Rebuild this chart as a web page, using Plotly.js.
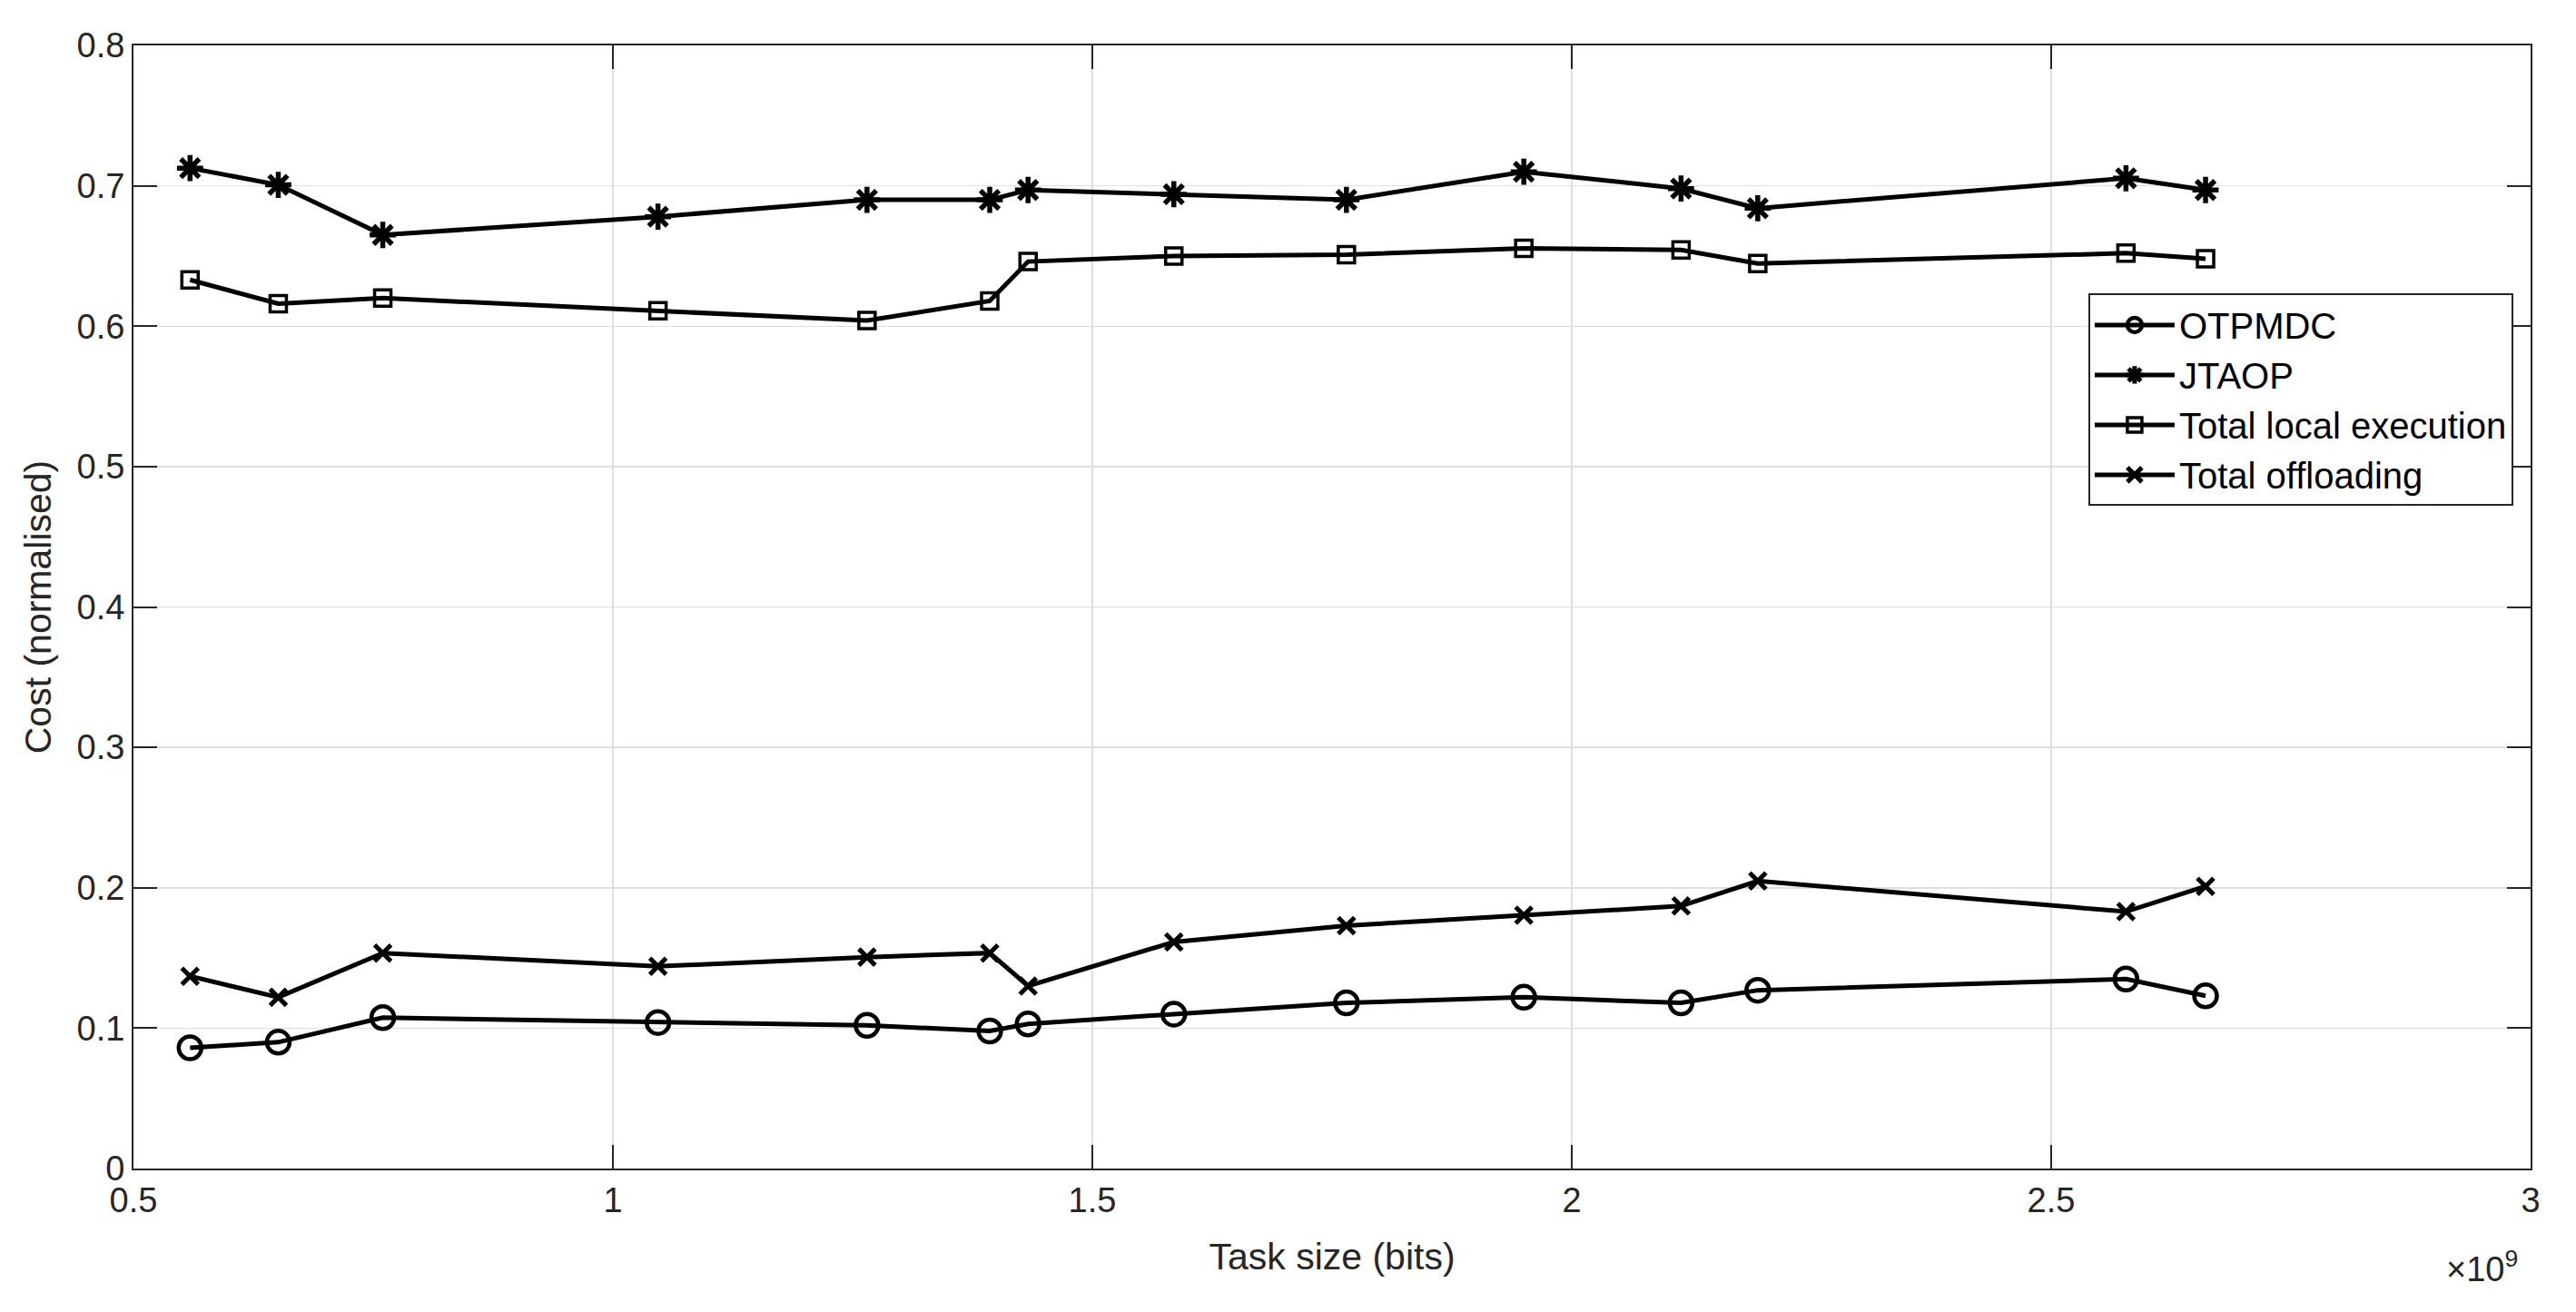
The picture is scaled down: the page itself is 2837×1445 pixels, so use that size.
<!DOCTYPE html>
<html>
<head>
<meta charset="utf-8">
<script src="https://cdn.plot.ly/plotly-3.0.1.min.js"></script>
<style>
  html, body { margin: 0; padding: 0; background: #fff; }
  #chart { width: 2837px; height: 1445px; }
</style>
</head>
<body>
<div id="chart"></div>
<script>
// Task size (bits)
const taskSize = [0.559e9, 0.651e9, 0.760e9, 1.047e9, 1.265e9, 1.393e9, 1.433e9,
                  1.585e9, 1.765e9, 1.950e9, 2.114e9, 2.194e9, 2.578e9, 2.661e9];

const otpmdc     = [0.086, 0.090, 0.1075, 0.104, 0.102, 0.098, 0.103,
                    0.110, 0.118, 0.122, 0.118, 0.127, 0.135, 0.123];
const jtaop      = [0.7126, 0.7007, 0.665, 0.678, 0.690, 0.690, 0.697,
                    0.694, 0.690, 0.710, 0.698, 0.684, 0.7054, 0.697];
const totalLocal = [0.633, 0.616, 0.620, 0.611, 0.604, 0.618, 0.646,
                    0.650, 0.651, 0.6554, 0.6543, 0.6446, 0.652, 0.648];
const totalOff   = [0.137, 0.122, 0.1535, 0.144, 0.1506, 0.1535, 0.130,
                    0.1614, 0.173, 0.1805, 0.187, 0.2048, 0.183, 0.201];

const seriesNames = ["OTPMDC", "JTAOP", "Total local execution", "Total offloading"];

const xTickVals = [0.5e9, 1.0e9, 1.5e9, 2.0e9, 2.5e9, 3.0e9];
const xTickText = ["0.5", "1", "1.5", "2", "2.5", "3"];
const yTickVals = [0, 0.1, 0.2, 0.3, 0.4, 0.5, 0.6, 0.7, 0.8];
const yTickText = ["0", "0.1", "0.2", "0.3", "0.4", "0.5", "0.6", "0.7", "0.8"];

const FONT = "Liberation Sans, Arial, Helvetica, sans-serif";
const TXT = "#262626";

function tr(y, name, symbol, size, mlw) {
  return {
    x: taskSize, y: y, name: name, type: "scatter", mode: "lines+markers",
    line: { color: "#000", width: 5 },
    marker: { symbol: symbol, size: size, color: "#000",
              line: { color: "#000", width: mlw } }
  };
}

const data = [
  tr(otpmdc, seriesNames[0], "circle-open", 25, 4.5),
  tr(jtaop, seriesNames[1], "asterisk-open", 24, 5.5),
  tr(totalLocal, seriesNames[2], "square-open", 18, 3.5),
  tr(totalOff, seriesNames[3], "x-thin-open", 18, 5)
];

const axisCommon = {
  showline: true, linecolor: TXT, linewidth: 2, mirror: "ticks",
  ticks: "inside", ticklen: 26, tickwidth: 2, tickcolor: TXT,
  showgrid: true, gridcolor: "#dfdfdf", gridwidth: 1.5,
  zeroline: false,
  tickfont: { family: FONT, size: 38, color: TXT }
};

const layout = {
  width: 2837, height: 1445,
  paper_bgcolor: "#fff", plot_bgcolor: "#fff",
  margin: { l: 147, r: 50, t: 50, b: 158 },
  showlegend: true,
  xaxis: Object.assign({}, axisCommon, {
    range: [0.5e9, 3.0e9], tickmode: "array", tickvals: xTickVals, ticktext: xTickText,
    title: { text: "Task size (bits)", font: { family: FONT, size: 41, color: TXT }, standoff: 28 },
    automargin: false
  }),
  yaxis: Object.assign({}, axisCommon, {
    range: [0, 0.8], tickmode: "array", tickvals: yTickVals, ticktext: yTickText,
    title: { text: "Cost (normalised)", font: { family: FONT, size: 41, color: TXT }, standoff: 15 },
    automargin: false
  }),
  legend: {
    x: 0.8155, y: 0.779, xanchor: "left", yanchor: "top",
    bgcolor: "#fff", bordercolor: TXT, borderwidth: 2,
    font: { family: FONT, size: 40, color: "#000" },
    itemwidth: 88, tracegroupgap: 0
  },
  annotations: [{
    xref: "paper", yref: "paper", x: 1.0, y: -0.066, xanchor: "right", yanchor: "top",
    xshift: -12,
    text: "×10<sup>9</sup>", showarrow: false,
    font: { family: FONT, size: 38, color: TXT }
  }]
};

Plotly.newPlot("chart", data, layout, { displayModeBar: false, staticPlot: true });
</script>
</body>
</html>
